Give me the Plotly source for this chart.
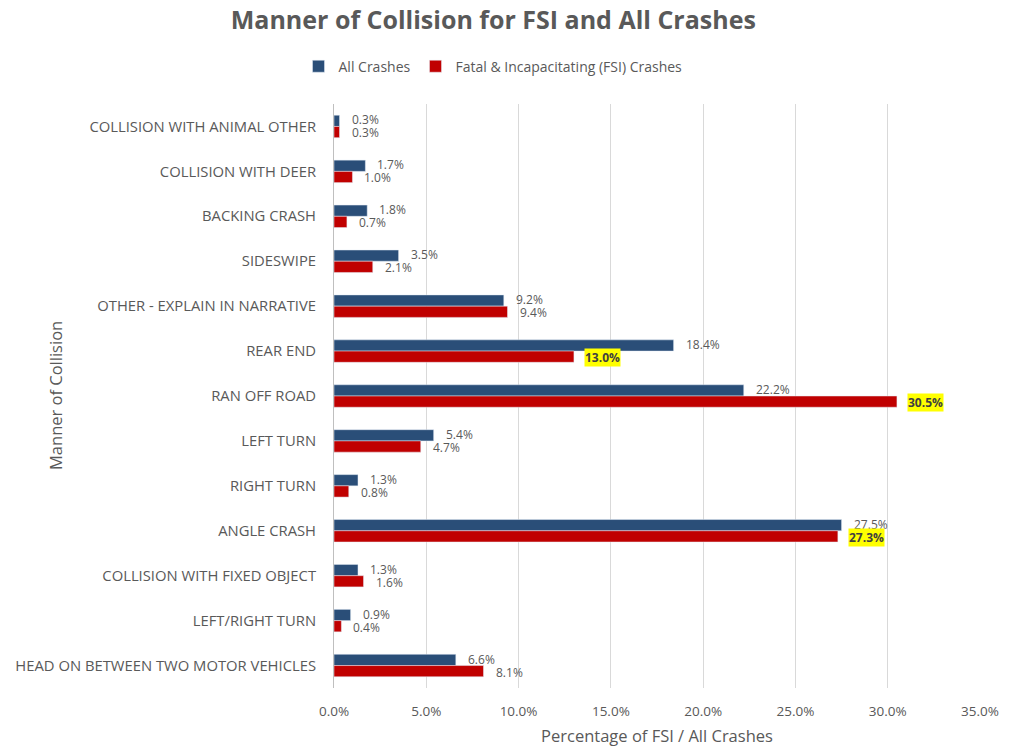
import plotly.graph_objects as go

categories = [
    "COLLISION WITH ANIMAL OTHER",
    "COLLISION WITH DEER",
    "BACKING CRASH",
    "SIDESWIPE",
    "OTHER - EXPLAIN IN NARRATIVE",
    "REAR END",
    "RAN OFF ROAD",
    "LEFT TURN",
    "RIGHT TURN",
    "ANGLE CRASH",
    "COLLISION WITH FIXED OBJECT",
    "LEFT/RIGHT TURN",
    "HEAD ON BETWEEN TWO MOTOR VEHICLES",
]
all_crashes = [0.3, 1.7, 1.8, 3.5, 9.2, 18.4, 22.2, 5.4, 1.3, 27.5, 1.3, 0.9, 6.6]
fsi_crashes = [0.3, 1.0, 0.7, 2.1, 9.4, 13.0, 30.5, 4.7, 0.8, 27.3, 1.6, 0.4, 8.1]
highlighted = ["REAR END", "RAN OFF ROAD", "ANGLE CRASH"]

FONT = "Open Sans"
GREY = "#595959"
BLUE = "#2a4e78"
RED = "#c00000"

fig = go.Figure()
fig.add_trace(go.Bar(
    y=categories, x=all_crashes, orientation="h", name="All Crashes",
    marker=dict(color=BLUE),
))
fig.add_trace(go.Bar(
    y=categories, x=fsi_crashes, orientation="h",
    name="Fatal & Incapacitating (FSI) Crashes",
    marker=dict(color=RED),
))

# value labels to the right of each bar; key FSI values highlighted in yellow
for c, a, f in zip(categories, all_crashes, fsi_crashes):
    fig.add_annotation(
        x=a, y=c, text=f"{a:.1f}%", showarrow=False,
        xanchor="left", xshift=10, yshift=6.5,
        font=dict(family=FONT, size=12, color=GREY),
    )
    if c in highlighted:
        fig.add_annotation(
            x=f, y=c, text=f"<b>{f:.1f}%</b>", showarrow=False,
            xanchor="left", xshift=10, yshift=-6.5,
            bgcolor="#ffff00", borderpad=0,
            font=dict(family=FONT, size=12, color="#404040"),
        )
    else:
        fig.add_annotation(
            x=f, y=c, text=f"{f:.1f}%", showarrow=False,
            xanchor="left", xshift=10, yshift=-6.5,
            font=dict(family=FONT, size=12, color=GREY),
        )

# y-axis title placed as free text
fig.add_annotation(
    x=(55 - 334) / 646, xref="paper", y=0.5, yref="paper",
    text="Manner of Collision",
    textangle=-90, showarrow=False, xanchor="center", yanchor="middle",
    font=dict(family=FONT, size=16.5, color=GREY),
)

fig.update_layout(
    width=1013, height=748,
    margin=dict(l=334, r=33, t=104, b=60),
    paper_bgcolor="white", plot_bgcolor="white",
    barmode="group", bargap=0.5, bargroupgap=0.0,
    font=dict(family=FONT, color=GREY),
    showlegend=True,
    title=dict(
        text="<b>Manner of Collision for FSI and All Crashes</b>",
        x=0.487, xanchor="center", y=0.973, yanchor="middle",
        font=dict(family=FONT, size=25, color=GREY),
    ),
    legend=dict(
        orientation="h", x=(493 - 334) / 646, xanchor="center",
        y=1.064, yanchor="middle",
        font=dict(family=FONT, size=14, color=GREY), traceorder="normal",
        itemwidth=30,
    ),
    xaxis=dict(
        range=[0, 35], dtick=5, tickformat=".1f", ticksuffix="%",
        showgrid=True, gridcolor="#d9d9d9", gridwidth=1, automargin=False,
        zeroline=False, showline=False, ticks="", ticklabelstandoff=13,
        tickfont=dict(family=FONT, size=13.5, color=GREY),
        title=dict(text="Percentage of FSI / All Crashes",
                   font=dict(family=FONT, size=16.5, color=GREY), standoff=11),
    ),
    yaxis=dict(
        autorange="reversed", showline=True, linecolor="#bfbfbf", linewidth=1,
        ticks="", ticklabelstandoff=14, automargin=False,
        tickfont=dict(family=FONT, size=14.8, color=GREY),
    ),
)

fig.write_html("out.html")
